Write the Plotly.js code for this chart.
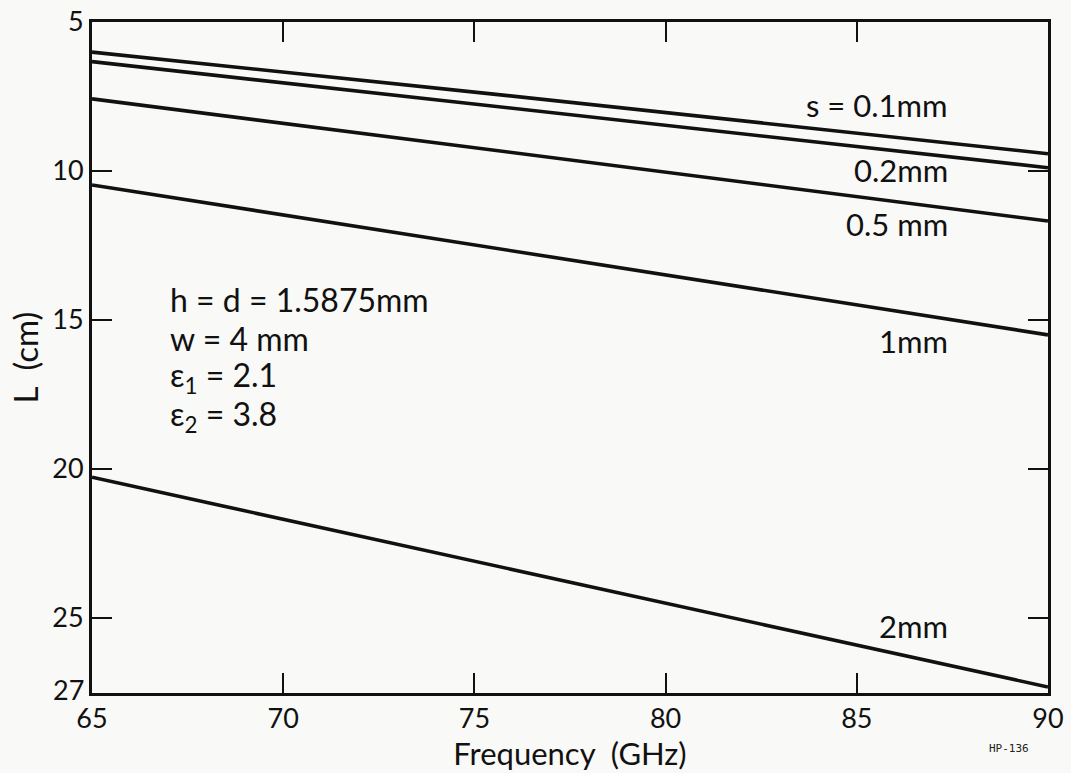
<!DOCTYPE html>
<html>
<head>
<meta charset="utf-8">
<script src="https://cdn.plot.ly/plotly-3.0.1.min.js"></script>
<style>
html,body{margin:0;padding:0;background:#f9f9f7;}
#chart{width:1071px;height:773px;}
</style>
</head>
<body>
<div id="chart"></div>
<script>
// Frequency (GHz) points of each curve
const freq = [65, 75.5, 90];
// L (cm) for each spacing s
const L_s01 = [6.01, 7.42, 9.42];
const L_s02 = [6.33, 7.82, 9.89];
const L_s05 = [7.58, 9.30, 11.68];
const L_s1  = [10.47, 12.58, 15.50];
const L_s2  = [20.28, 23.23, 27.32];
const seriesLabels = ["s = 0.1mm", "0.2mm", "0.5 mm", "1mm", "2mm"];
const labelY = [7.79, 9.97, 11.78, 15.69, 25.28];
const xTicks = [65, 70, 75, 80, 85, 90];
const yTicks = [5, 10, 15, 20, 25];
const paramText = ["h = d = 1.5875mm", "w = 4 mm", "ε<sub>1</sub> = 2.1", "ε<sub>2</sub> = 3.8"];

const FONT = "Lato, 'Noto Sans', sans-serif";
const allL = [L_s01, L_s02, L_s05, L_s1, L_s2];
const traces = allL.map((ys, i) => ({
  x: freq, y: ys, type: 'scatter', mode: 'lines',
  name: seriesLabels[i],
  line: {color: '#111', width: 3.6},
  showlegend: false, hoverinfo: 'skip'
}));

const annotations = seriesLabels.map((t, i) => ({
  x: 87.45, y: labelY[i], xref: 'x', yref: 'y', text: t, showarrow: false,
  xanchor: 'right', yanchor: 'middle', font: {family: FONT, size: 31, color: '#111'}
}));
paramText.forEach((t, i) => {
  annotations.push({
    x: 66.98, y: 14.3 + i * 1.31, xref: 'x', yref: 'y', text: t, showarrow: false,
    xanchor: 'left', yanchor: 'middle', font: {family: FONT, size: 32, color: '#111'}
  });
});
annotations.push({
  x: 0, y: 27.52, xref: 'paper', yref: 'y', text: '27', showarrow: false,
  xanchor: 'right', yanchor: 'middle', xshift: -6, yshift: 4,
  font: {family: FONT, size: 27, color: '#111'}
});
annotations.push({
  x: (1031 - 92) / (1048 - 92), y: (693 - 757) / (693 - 22),
  xref: 'paper', yref: 'paper', text: 'HP-136', showarrow: false,
  font: {family: "'DejaVu Sans Mono', monospace", size: 11, color: '#222'}
});

const layout = {
  width: 1071, height: 773,
  margin: {l: 92, r: 23, t: 22, b: 80},
  paper_bgcolor: '#f9f9f7', plot_bgcolor: '#f9f9f7',
  font: {family: FONT, color: '#111'},
  xaxis: {
    range: [65, 90], tickvals: xTicks, ticks: 'inside', ticklen: 20, tickwidth: 2,
    tickcolor: '#111', showline: true, linewidth: 3, linecolor: '#111', mirror: 'ticks',
    showgrid: false, zeroline: false, tickfont: {family: FONT, size: 27},
    title: {text: 'Frequency  (GHz)', font: {family: FONT, size: 31}, standoff: 0}
  },
  yaxis: {
    range: [27.52, 5], tickvals: yTicks, ticks: 'inside', ticklen: 20, tickwidth: 2,
    tickcolor: '#111', showline: true, linewidth: 3, linecolor: '#111', mirror: 'ticks',
    showgrid: false, zeroline: false, tickfont: {family: FONT, size: 27},
    title: {text: 'L  (cm)', font: {family: FONT, size: 33}, standoff: 4}
  },
  annotations: annotations
};

Plotly.newPlot('chart', traces, layout, {displayModeBar: false, staticPlot: true});
</script>
</body>
</html>
